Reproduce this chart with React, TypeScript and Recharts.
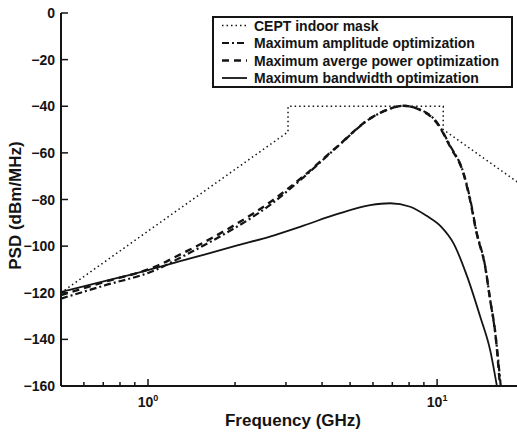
import { Legend, Line, LineChart, XAxis, YAxis } from 'recharts';

// CEPT indoor mask (dBm/MHz) vs frequency (GHz)
const maskFreq = [0.5, 3.05, 3.05, 10.5, 10.5, 19.2];
const maskPsd = [-120, -51, -40, -40, -50, -73];

// Maximum amplitude optimization
const amplitudeFreq = [0.5, 0.71, 1.06, 1.31, 1.575, 2.345, 2.64, 2.98, 3.45, 4.5, 5.87, 6.7, 7.63, 8.73, 10.0, 11.1, 12.33, 13.0, 13.7, 14.66, 15.26, 15.9, 16.6];
const amplitudePsd = [-122.5, -116.8, -110.3, -104.6, -99.4, -86.8, -82.4, -77.2, -70.5, -57.6, -45.3, -41.6, -39.8, -41.4, -47, -57, -68.5, -79.5, -94, -108.5, -123, -137.5, -160];

// Maximum averge power optimization
const averageFreq = [0.5, 0.71, 1.06, 1.31, 1.575, 2.345, 2.64, 2.98, 3.45, 4.5, 5.87, 6.7, 7.63, 8.73, 10.0, 11.1, 12.33, 13.0, 13.7, 14.66, 15.26, 15.9, 16.5];
const averagePsd = [-121, -115.3, -108.8, -103.2, -98.1, -85.5, -81.2, -76.3, -70.0, -57.4, -45.2, -41.6, -39.8, -41.6, -47.3, -57.4, -68.8, -80.2, -94.5, -108.8, -123.1, -137.4, -160];

// Maximum bandwidth optimization
const bandwidthFreq = [0.5, 0.81, 1.0, 1.38, 2.05, 2.64, 3.45, 4.5, 5.87, 6.88, 8.07, 9.2, 10.3, 11.4, 12.7, 14.1, 15.26, 16.1];
const bandwidthPsd = [-119.7, -113.2, -110.3, -105.5, -99.6, -95.9, -91.2, -86.3, -82.4, -81.6, -83.1, -87, -91.5, -98.8, -113, -130.3, -144.6, -160];

const seriesNames = [
  'CEPT indoor mask',
  'Maximum amplitude optimization',
  'Maximum averge power optimization',
  'Maximum bandwidth optimization',
];

const xTicks = [0.6, 0.7, 0.8, 0.9, 1, 2, 3, 4, 5, 6, 7, 8, 9, 10];
const xMajor = [1, 10];
const yTicks = [-160, -140, -120, -100, -80, -60, -40, -20, 0];

const ink = '#141414';
const font = '"Liberation Sans", Arial, sans-serif';

const toPoints = (freq: number[], psd: number[]) => freq.map((f, i) => ({ freq: f, psd: psd[i] }));

const series = [
  { name: seriesNames[0], data: toPoints(maskFreq, maskPsd), dash: '1.5 3', width: 1.5, curve: 'linear' as const },
  { name: seriesNames[1], data: toPoints(amplitudeFreq, amplitudePsd), dash: '7 3 2 3', width: 2.2, curve: 'monotone' as const },
  { name: seriesNames[2], data: toPoints(averageFreq, averagePsd), dash: '7 5', width: 2.4, curve: 'monotone' as const },
  { name: seriesNames[3], data: toPoints(bandwidthFreq, bandwidthPsd), dash: undefined, width: 1.8, curve: 'monotone' as const },
];

function BottomTick({ x, y, payload }: any) {
  const major = xMajor.includes(payload.value);
  return (
    <g>
      <line x1={x} x2={x} y1={y} y2={y - (major ? 7 : 4)} stroke={ink} strokeWidth={1.5} />
      {major && (
        <text x={x} y={y + 21} textAnchor="middle" fontSize={14} fontWeight="bold" fill={ink} fontFamily={font}>
          10<tspan dy={-6} fontSize={9}>{Math.round(Math.log10(payload.value))}</tspan>
        </text>
      )}
    </g>
  );
}

function TopTick({ x, y, payload }: any) {
  const major = xMajor.includes(payload.value);
  return <line x1={x} x2={x} y1={y} y2={y + (major ? 7 : 4)} stroke={ink} strokeWidth={1.5} />;
}

function LeftTick({ x, y, payload }: any) {
  const label = payload.value < 0 ? `\u2212${Math.abs(payload.value)}` : `${payload.value}`;
  return (
    <g>
      <line x1={x} x2={x + 7} y1={y} y2={y} stroke={ink} strokeWidth={1.5} />
      <text x={x - 6} y={y + 5} textAnchor="end" fontSize={14} fontWeight="bold" fill={ink} fontFamily={font}>
        {label}
      </text>
    </g>
  );
}

function RightTick({ x, y }: any) {
  return <line x1={x} x2={x - 7} y1={y} y2={y} stroke={ink} strokeWidth={1.5} />;
}

function LegendBox() {
  return (
    <svg width={301} height={72} style={{ display: 'block' }}>
      <rect x={1} y={1} width={299} height={70} fill="#fff" stroke={ink} strokeWidth={2} />
      {series.map((s, i) => {
        const cy = 9.5 + i * 17.5;
        return (
          <g key={s.name}>
            <line x1={10} x2={35} y1={cy} y2={cy} stroke={ink} strokeWidth={s.width} strokeDasharray={s.dash} />
            <text x={42} y={cy + 5} fontSize={14} fontWeight="bold" fill={ink} fontFamily={font}>
              {s.name}
            </text>
          </g>
        );
      })}
    </svg>
  );
}

export default function App() {
  return (
    <div style={{ position: 'absolute', left: 0, top: 0, width: 517, height: 432, overflow: 'hidden', background: '#fff' }}>
      <LineChart width={540} height={432} margin={{ top: 13, right: 21, bottom: 0, left: 0 }}>
        <XAxis
          xAxisId="bottom"
          dataKey="freq"
          type="number"
          scale="log"
          domain={[0.5, 19.2]}
          allowDataOverflow
          ticks={xTicks}
          interval={0}
          height={46}
          tickSize={0}
          tickMargin={0}
          tickLine={false}
          tick={BottomTick}
          axisLine={{ stroke: ink, strokeWidth: 2 }}
          label={{
            content: ({ viewBox }: any) => (
              <text
                x={viewBox.x + viewBox.width / 2 + 3}
                y={viewBox.y + 40}
                textAnchor="middle"
                fontSize={17}
                fontWeight="bold"
                fill={ink}
                fontFamily={font}
              >
                Frequency (GHz)
              </text>
            ),
          }}
        />
        <XAxis
          xAxisId="top"
          orientation="top"
          dataKey="freq"
          type="number"
          scale="log"
          domain={[0.5, 19.2]}
          allowDataOverflow
          ticks={xTicks}
          interval={0}
          height={0}
          tickSize={0}
          tickMargin={0}
          tickLine={false}
          tick={TopTick}
          axisLine={{ stroke: ink, strokeWidth: 2 }}
        />
        <YAxis
          yAxisId="left"
          type="number"
          domain={[-160, 0]}
          allowDataOverflow
          ticks={yTicks}
          interval={0}
          width={61}
          tickSize={0}
          tickMargin={0}
          tickLine={false}
          tick={LeftTick}
          axisLine={{ stroke: ink, strokeWidth: 2 }}
          label={{
            content: ({ viewBox }: any) => {
              const cx = viewBox.x + 21;
              const cy = viewBox.y + viewBox.height / 2 + 6;
              return (
                <text
                  x={cx}
                  y={cy}
                  transform={`rotate(-90, ${cx}, ${cy})`}
                  textAnchor="middle"
                  fontSize={17}
                  fontWeight="bold"
                  fill={ink}
                  fontFamily={font}
                >
                  PSD (dBm/MHz)
                </text>
              );
            },
          }}
        />
        <YAxis
          yAxisId="right"
          orientation="right"
          type="number"
          domain={[-160, 0]}
          allowDataOverflow
          ticks={yTicks}
          interval={0}
          width={0}
          tickSize={0}
          tickMargin={0}
          tickLine={false}
          tick={RightTick}
          axisLine={{ stroke: ink, strokeWidth: 2 }}
        />
        {series.map((s) => (
          <Line
            key={s.name}
            name={s.name}
            data={s.data}
            dataKey="psd"
            xAxisId="bottom"
            yAxisId="left"
            type={s.curve}
            stroke={ink}
            strokeWidth={s.width}
            strokeDasharray={s.dash}
            dot={false}
            activeDot={false}
            isAnimationActive={false}
          />
        ))}
        <Legend
          layout="vertical"
          align="center"
          verticalAlign="middle"
          content={LegendBox}
          wrapperStyle={{ left: 212, top: 16, width: 301, height: 72 }}
        />
      </LineChart>
    </div>
  );
}
